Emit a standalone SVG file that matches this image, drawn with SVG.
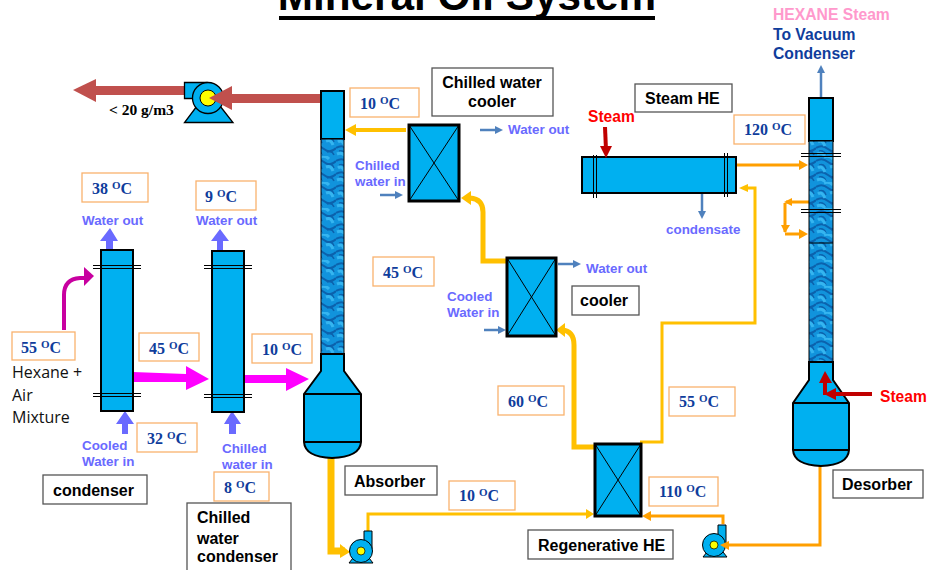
<svg xmlns="http://www.w3.org/2000/svg" width="930" height="570" viewBox="0 0 930 570">
<style>
text{font-family:"Liberation Sans",Arial,sans-serif}
.eq{fill:#00b0f0;stroke:#000;stroke-width:2}
.hx{fill:#00b0f0;stroke:#000;stroke-width:3}
.x{stroke:#000;stroke-width:1;fill:none}
.pk{fill:url(#pack);stroke:#000;stroke-width:1}
.tb{fill:#fff;stroke:#f9b26e;stroke-width:1.3}
.t{font-family:"Liberation Serif","Times New Roman",serif;font-weight:700;font-size:16px;fill:#0f3d9c}
.o2{font-size:11px}
.c2{font-size:16px}
.lb{fill:#fff;stroke:#555;stroke-width:1.3}
.b{font-weight:700;font-size:16px;fill:#000}
.w{font-weight:700;font-size:13.4px;fill:#6a6aff}
.red{font-weight:700;font-size:15.6px;fill:#f00}
.hd{font-weight:700;font-size:15.7px}
.os{font-family:"Open Sans","Liberation Sans",sans-serif;font-size:16px;fill:#111}
.fl{stroke:#000;stroke-width:1;fill:none}
.fl2{stroke:#000;stroke-width:2;fill:none}
.y{fill:none;stroke:#ffc000}
.o{fill:none;stroke:#ff9f00;stroke-width:3}
.sb{fill:none;stroke:#4f81bd;stroke-width:2.5}
.pu{fill:#6a6aff}
.py{fill:#ffc000}.po{fill:#ff9f00}.pb{fill:#4f81bd}.pm{fill:#ff00ff}.pr{fill:#c00000}.pc{fill:#c0504d}
</style>
<defs>
<pattern id="pack" width="24" height="26" patternUnits="userSpaceOnUse">
<rect width="24" height="26" fill="#1193dc"/>
<path d="M0 5Q6 1 12 6T24 5M0 18Q6 14 12 19T24 18" fill="none" stroke="#0b62ad" stroke-width="2"/>
<path d="M3 9Q8 7 10 13M15 22Q20 20 22 25M15 8Q20 7 22 12M3 21Q8 20 10 25" fill="none" stroke="#0b62ad" stroke-width="1.5"/>
<path d="M2 12Q6 9 9 16M14 11Q19 9 21 15M8 1Q13 -1 17 3M1 24Q6 22 9 26" fill="none" stroke="#35b5f0" stroke-width="3"/>
</pattern>
</defs>

<g id="title"><text x="467" y="10" text-anchor="middle" font-size="42.3" font-weight="700" fill="#000">Mineral Oil System</text><rect x="279" y="16" width="376" height="4" fill="#000"/></g>

<g id="connectors">
<rect x="210" y="94" width="111" height="9" class="pc"/>
<rect x="95" y="86" width="92" height="9" class="pc"/>
<path class="pc" d="M73 90 96 79V102Z"/>
<path d="M64 330V295Q64 279 80 278H86" fill="none" stroke="#c800a0" stroke-width="4"/>
<path d="M94 276 84 267V286Z" fill="#c800a0"/>
<path class="pm" d="M133 372 186 374V366L209 379 186 390V382L133 382Z"/>
<path class="pm" d="M244 375H286V368L309 379 286 391V383H244Z"/>
<path class="pu" d="M106 250V241H100L110 228 118 241H113V250Z"/>
<path class="pu" d="M217 251V241H211L220 229 229 241H223V251Z"/>
<path class="pu" d="M122 434V424H116L125 411 134 424H128V434Z"/>
<path class="pu" d="M229 434V424H224L232 411 241 424H236V434Z"/>
<path class="sb" d="M480 130H497"/><path class="pb" d="M503 130 495 126V134Z"/>
<path class="sb" d="M380 195H397"/><path class="pb" d="M403 195 395 191V199Z"/>
<path class="sb" d="M558 264H575"/><path class="pb" d="M581 264 573 260V268Z"/>
<path class="sb" d="M484 330H500"/><path class="pb" d="M506 330 498 326V334Z"/>
<path class="sb" d="M702 193V212"/><path class="pb" d="M702 219 698 211H706Z"/>
<path class="sb" d="M821 98V72"/><path class="pb" d="M821 65 817 73H825Z"/>
<path class="y" stroke-width="4" d="M406 130H352"/><path class="py" d="M345 130 356 124V136Z"/>
<path class="y" stroke-width="5" d="M507 261H483V212Q483 199 470 198H465"/><path class="py" d="M461 198 471 191V205Z"/>
<path class="y" stroke-width="5" d="M594 447H574V345Q574 331 562 330H561"/><path class="py" d="M556 330 565 323V337Z"/>
<path class="y" stroke-width="7" d="M331 458V551H345"/><path class="py" d="M350 552 340 544V558Z"/>
<path class="y" stroke-width="3" d="M368 535V514H588"/><path class="py" d="M594 514 586 509V519Z"/>
<path class="y" stroke-width="3" d="M640 442H662V323H755V188H745"/><path class="py" d="M739 188 748 184V192Z"/>
<path class="o" d="M737 165H802"/><path class="po" d="M808 165 799 160V170Z"/>
<path class="o" d="M809 202H786"/><path class="po" d="M784 202 792 198V206Z"/>
<path class="o" d="M785 203V232"/><path class="po" d="M785 233 781 225H790Z"/>
<path class="o" d="M785 234H802"/><path class="po" d="M808 234 799 229V239Z"/>
<path class="o" d="M820 466V545H726"/>
<path class="o" d="M723 524V516H648"/><path class="po" d="M642 516 651 511V521Z"/>
</g>

<g id="pump-top"><path class="eq" stroke-width="1.3" style="stroke-width:1.3" d="M184.500 82.500H207V98.500H184.500Z"/><path class="eq" style="stroke-width:1.3" d="M197 106 184.500 122.500H233L220 106Z"/><circle cx="208" cy="98" r="15.500" class="eq" style="stroke-width:1.3"/><circle cx="208" cy="98" r="8" fill="#ff0" stroke="#000"/></g>
<path class="pc" d="M209 98 232 86V110Z"/>

<g id="condenser"><rect x="101" y="250" width="32" height="161" class="eq"/><path class="fl" d="M93 265.500H141M93 268.500H141M93 393.500H141M93 396.500H141"/></g>
<g id="chilled-condenser"><rect x="212" y="251" width="32" height="161" class="eq"/><path class="fl" d="M204 265.500H252M204 268.500H252M204 394.500H252M204 397.500H252"/></g>

<g id="absorber">
<rect x="321" y="91" width="23" height="48" class="eq"/>
<rect x="321" y="139" width="23" height="215" class="pk"/>
<path class="eq" d="M304 442V394L321 371V354H344V371L361 394V442Q360 457 332 458 305 457 304 442Z"/>
<path class="fl2" d="M304 394H361M304 442H361"/>
</g>

<g id="desorber">
<rect x="809" y="98" width="24" height="43" class="eq"/>
<rect x="809" y="141" width="24" height="221" class="pk"/>
<path class="eq" d="M793 450V403L809 380V362H833V380L849 403V450Q848 465 821 466 794 465 793 450Z"/>
<path class="fl2" d="M793 403H849M793 450H849"/>
<path class="fl" d="M801 153.500H841M801 156.500H841M801 209.500H841M801 212.500H841M809 243H833"/>
</g>

<g id="steam-he"><rect x="582" y="157" width="154" height="36" class="eq"/><path class="fl" d="M593.500 155V198M596.500 155V198M724.500 153V197M727.500 153V197"/></g>

<g id="hx-chilled"><rect x="409" y="125" width="50" height="76" class="hx"/><path class="x" d="M409 125 459 201M459 125 409 201"/></g>
<g id="hx-cooler"><rect x="507" y="258" width="49" height="78" class="hx"/><path class="x" d="M507 258 556 336M556 258 507 336"/></g>
<g id="hx-regen"><rect x="595" y="444" width="46" height="72" class="hx"/><path class="x" d="M595 444 641 516M641 444 595 516"/></g>

<g id="pump-a"><path class="eq" style="stroke-width:1" d="M364 531H372V549H364Z"/><path class="eq" style="stroke-width:1" d="M353 558 349 563H373L369 558Z"/><circle cx="361" cy="551" r="11.500" class="eq" style="stroke-width:1"/><circle cx="361" cy="551" r="4" fill="#ff0" stroke="#000" stroke-width=".7"/></g>
<g id="pump-b"><path class="eq" style="stroke-width:1" d="M718 525H726V544H718Z"/><path class="eq" style="stroke-width:1" d="M707 552 703 557H727L723 552Z"/><circle cx="714" cy="545" r="11.500" class="eq" style="stroke-width:1"/><circle cx="714" cy="545" r="4" fill="#ff0" stroke="#000" stroke-width=".7"/><path class="po" d="M720 545 729 541V550Z"/></g>

<g id="steam-arrows">
<path d="M605 127 606 150" stroke="#c00000" stroke-width="4" fill="none"/><path class="pr" d="M606 158 600 146H612Z"/>
<path d="M872 394H830M825 395V378" stroke="#c00000" stroke-width="4" fill="none"/><path class="pr" d="M825 371 819 383H832Z"/><path class="pr" d="M824 394 836 388V400Z"/>
</g>

<g id="temps">
<rect x="82" y="173" width="66" height="29" class="tb"/><text x="92" y="194" class="t">38 <tspan dy="-5" class="o2">O</tspan><tspan dy="5" class="c2">C</tspan></text>
<rect x="196" y="181" width="60" height="29" class="tb"/><text x="205" y="202" class="t">9 <tspan dy="-5" class="o2">O</tspan><tspan dy="5" class="c2">C</tspan></text>
<rect x="12" y="332" width="63" height="28" class="tb"/><text x="21" y="353" class="t">55 <tspan dy="-5" class="o2">O</tspan><tspan dy="5" class="c2">C</tspan></text>
<rect x="139" y="333" width="60" height="28" class="tb"/><text x="149" y="354" class="t">45 <tspan dy="-5" class="o2">O</tspan><tspan dy="5" class="c2">C</tspan></text>
<rect x="252" y="334" width="60" height="29" class="tb"/><text x="262" y="355" class="t">10 <tspan dy="-5" class="o2">O</tspan><tspan dy="5" class="c2">C</tspan></text>
<rect x="137" y="423" width="60" height="29" class="tb"/><text x="147" y="444" class="t">32 <tspan dy="-5" class="o2">O</tspan><tspan dy="5" class="c2">C</tspan></text>
<rect x="214" y="472" width="55" height="29" class="tb"/><text x="224" y="493" class="t">8 <tspan dy="-5" class="o2">O</tspan><tspan dy="5" class="c2">C</tspan></text>
<rect x="350" y="88" width="69" height="29" class="tb"/><text x="360" y="109" class="t">10 <tspan dy="-5" class="o2">O</tspan><tspan dy="5" class="c2">C</tspan></text>
<rect x="373" y="257" width="61" height="29" class="tb"/><text x="383" y="278" class="t">45 <tspan dy="-5" class="o2">O</tspan><tspan dy="5" class="c2">C</tspan></text>
<rect x="498" y="386" width="66" height="29" class="tb"/><text x="508" y="407" class="t">60 <tspan dy="-5" class="o2">O</tspan><tspan dy="5" class="c2">C</tspan></text>
<rect x="449" y="481" width="66" height="29" class="tb"/><text x="459" y="501" class="t">10 <tspan dy="-5" class="o2">O</tspan><tspan dy="5" class="c2">C</tspan></text>
<rect x="669" y="387" width="66" height="29" class="tb"/><text x="679" y="407" class="t">55 <tspan dy="-5" class="o2">O</tspan><tspan dy="5" class="c2">C</tspan></text>
<rect x="649" y="477" width="69" height="29" class="tb"/><text x="659" y="497" class="t">110 <tspan dy="-5" class="o2">O</tspan><tspan dy="5" class="c2">C</tspan></text>
<rect x="734" y="115" width="71" height="29" class="tb"/><text x="744" y="135" class="t">120 <tspan dy="-5" class="o2">O</tspan><tspan dy="5" class="c2">C</tspan></text>
</g>

<g id="labels">
<text x="109" y="115" font-weight="700" font-size="15.500" fill="#000" style="font-family:'Liberation Serif',serif">&lt; 20 g/m3</text>
<text x="12" y="378" class="os">Hexane +</text>
<text x="12" y="401" class="os">Air</text>
<text x="12" y="423" class="os">Mixture</text>
<text x="82" y="225" class="w">Water out</text>
<text x="196" y="225" class="w">Water out</text>
<text x="82" y="450" class="w">Cooled</text><text x="82" y="466" class="w">Water in</text>
<text x="222" y="453" class="w">Chilled</text><text x="222" y="469" class="w">water in</text>
<text x="508" y="134" class="w">Water out</text>
<text x="355" y="170" class="w">Chilled</text><text x="355" y="186" class="w">water in</text>
<text x="586" y="273" class="w">Water out</text>
<text x="447" y="301" class="w">Cooled</text><text x="447" y="317" class="w">Water in</text>
<text x="666" y="234" class="w">condensate</text>
<text x="773" y="20" class="hd" fill="#ff99cc">HEXANE Steam</text>
<text x="773" y="40" class="hd" fill="#0f3d9c">To Vacuum</text>
<text x="773" y="59" class="hd" fill="#0f3d9c">Condenser</text>
<text x="588" y="122" class="red">Steam</text>
<text x="880" y="402" class="red">Steam</text>
<rect x="43" y="475" width="104" height="29" class="lb"/><text x="53" y="496" class="b">condenser</text>
<rect x="187" y="503" width="104" height="70" class="lb"/><text x="197" y="523" class="b">Chilled</text><text x="197" y="544" class="b">water</text><text x="197" y="562" class="b">condenser</text>
<rect x="345" y="466" width="92" height="29" class="lb"/><text x="354" y="487" class="b">Absorber</text>
<rect x="432" y="68" width="121" height="48" class="lb"/><text x="492" y="88" text-anchor="middle" class="b">Chilled water</text><text x="492" y="107" text-anchor="middle" class="b">cooler</text>
<rect x="572" y="286" width="67" height="29" class="lb"/><text x="580" y="306" class="b">cooler</text>
<rect x="528" y="530" width="145" height="29" class="lb"/><text x="538" y="551" class="b">Regenerative HE</text>
<rect x="635" y="84" width="97" height="28" class="lb"/><text x="645" y="104" class="b">Steam HE</text>
<rect x="833" y="470" width="90" height="28" class="lb"/><text x="842" y="490" class="b">Desorber</text>
</g>
</svg>
